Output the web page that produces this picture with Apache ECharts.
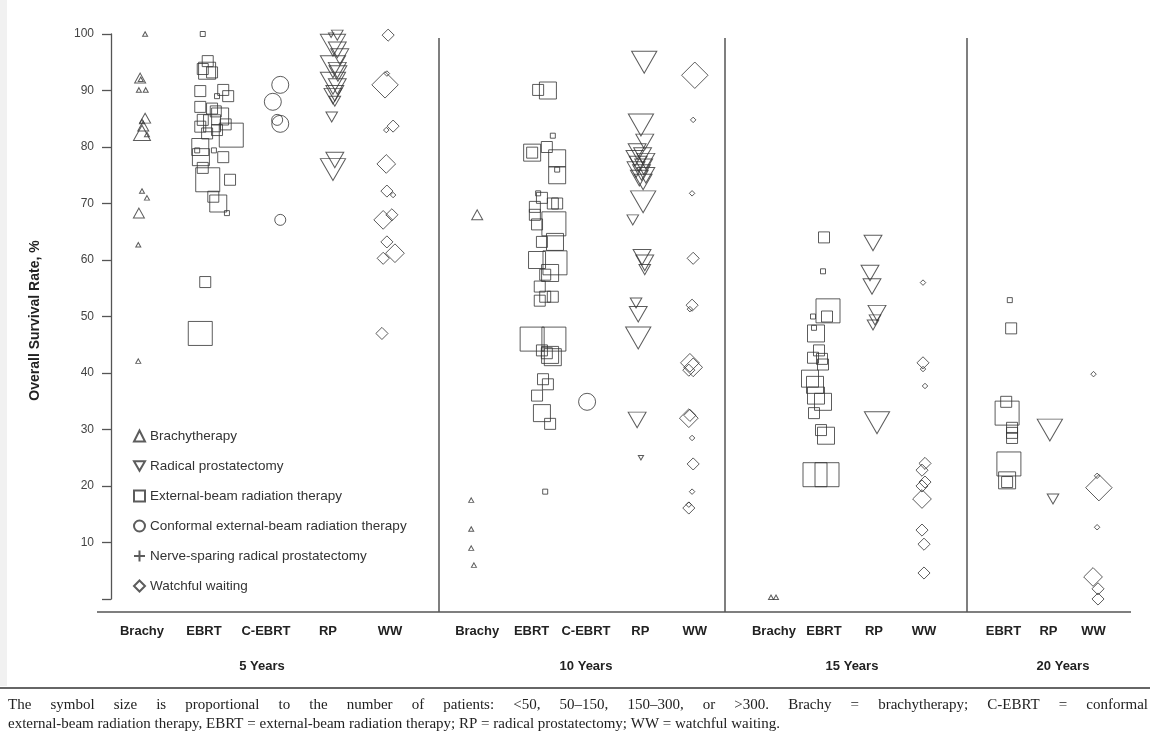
<!DOCTYPE html>
<html>
<head>
<meta charset="utf-8">
<script src="https://cdn.jsdelivr.net/npm/echarts@6/dist/echarts.min.js"></script>
<style>
html,body{margin:0;padding:0;background:#fff;}
#chart{width:1150px;height:746px;}
</style>
</head>
<body>
<div id="chart"></div>
<script>
// ---------------- DATA ----------------
const panelTitles = ['5 Years', '10 Years', '15 Years', '20 Years'];
const panelCategories = [
  ['Brachy', 'EBRT', 'C-EBRT', 'RP', 'WW'],
  ['Brachy', 'EBRT', 'C-EBRT', 'RP', 'WW'],
  ['Brachy', 'EBRT', 'RP', 'WW'],
  ['EBRT', 'RP', 'WW']
];
const yTickValues = [0, 10, 20, 30, 40, 50, 60, 70, 80, 90, 100];
const patientClasses = ['<50', '50–150', '150–300', '>300'];
const treatmentNames = {
  'Brachy': 'Brachytherapy',
  'RP': 'Radical prostatectomy',
  'EBRT': 'External-beam radiation therapy',
  'C-EBRT': 'Conformal external-beam radiation therapy',
  'NSRP': 'Nerve-sparing radical prostatectomy',
  'WW': 'Watchful waiting'
};
const legendOrder = ['Brachy', 'RP', 'EBRT', 'C-EBRT', 'NSRP', 'WW'];

// each study: [overall survival %, patient-count class (1..4), horizontal spread within the column]
const y5Brachy = [[100,1,0.05],[92.2,2,-0.03],[92.0,1,-0.02],[90.1,1,-0.05],[90.1,1,0.06],[85.1,2,0.05],[84.5,1,0],[83.7,2,0.02],[82.5,3,0],[82.2,1,0.08],[72.2,1,0],[71,1,0.08],[68.3,2,-0.05],[62.7,1,-0.06],[42.1,1,-0.06]];
const y5EBRT = [[100,1,-0.02],[95.2,2,0.06],[93.8,2,-0.02],[93.5,3,0.05],[93.2,2,0.13],[89.9,2,-0.06],[90.1,2,0.31],[89.0,2,0.39],[89.0,1,0.21],[87.1,2,-0.06],[86.8,2,0.13],[86.3,2,0.19],[85.4,3,0.26],[84.8,2,-0.02],[84.2,3,0.13],[83.6,2,-0.06],[83.0,2,0.21],[84.0,2,0.35],[82.4,2,0.05],[82.1,4,0.44],[80.0,3,-0.06],[79.4,1,-0.11],[79.4,1,0.16],[78.2,3,-0.05],[78.2,2,0.31],[76.3,2,-0.02],[74.2,4,0.06],[74.2,2,0.42],[71.2,2,0.15],[70.0,3,0.23],[68.3,1,0.37],[56.1,2,0.02],[47.0,4,-0.06]];
const y5CEBRT = [[91,3,0.23],[88,3,0.11],[84.1,3,0.23],[84.8,2,0.18],[67.1,2,0.23]];
const y5RP = [[99.8,2,0.15],[99.8,1,0.05],[98,4,0.08],[97.2,3,0.15],[96,3,0.19],[94.2,4,0.08],[93.6,3,0.15],[93,3,0.16],[91.3,4,0.08],[90.7,3,0.15],[89.5,3,0.11],[89,3,0.08],[88.1,2,0.11],[85.3,2,0.06],[77.7,3,0.11],[76,4,0.08]];
const y5WW = [[99.8,2,-0.03],[93,1,-0.05],[91,4,-0.08],[83.7,2,0.05],[83,1,-0.06],[77,3,-0.06],[72.2,2,-0.05],[71.5,1,0.05],[68,2,0.03],[67.1,3,-0.11],[63.2,2,-0.05],[61.2,3,0.08],[60.3,2,-0.11],[47,2,-0.13]];

const y10Brachy = [[68,2,0],[17.5,1,-0.11],[12.4,1,-0.11],[9,1,-0.11],[6,1,-0.06]];
const y10EBRT = [[90.1,2,0.12],[90,3,0.30],[82,1,0.39],[79,3,0.01],[79,2,0.01],[80,2,0.28],[78,3,0.47],[76,1,0.47],[75,3,0.47],[71.8,1,0.12],[71,2,0.19],[70,2,0.39],[70,2,0.47],[69.4,2,0.06],[68,2,0.06],[66.4,4,0.41],[66.3,2,0.10],[63.2,2,0.19],[63.2,3,0.43],[60,3,0.10],[59.5,4,0.43],[57.7,3,0.34],[57.4,2,0.25],[55.3,2,0.15],[53.5,2,0.25],[53.5,2,0.39],[52.8,2,0.15],[46,4,0.01],[46,4,0.41],[44,2,0.19],[43.5,2,0.28],[43.2,3,0.34],[42.8,3,0.39],[38.9,2,0.21],[38,2,0.30],[36,2,0.10],[32.9,3,0.19],[31,2,0.34],[19,1,0.25]];
const y10CEBRT = [[34.9,3,0.02]];
const y10RP = [[95,4,0.07],[83.9,4,0.01],[80.9,3,0.08],[79.2,3,-0.06],[78.5,3,0.04],[78,3,-0.1],[77.5,3,0.1],[77,3,-0.04],[76.5,3,0.06],[76,3,-0.08],[75.5,3,0.02],[75,3,0.1],[74.5,3,-0.02],[73.8,3,0.05],[70.3,4,0.05],[67.1,2,-0.14],[60.5,3,0.03],[59.5,3,0.08],[58.3,2,0.08],[52.4,2,-0.08],[50.4,3,-0.04],[46.2,4,-0.04],[31.7,3,-0.06],[25,1,0.01]];
const y10WW = [[92.7,4,0],[84.8,1,-0.03],[71.8,1,-0.05],[60.3,2,-0.03],[52,2,-0.05],[51.3,1,-0.09],[41.8,3,-0.09],[41,3,-0.03],[40.5,2,-0.11],[32.5,2,-0.09],[32,3,-0.11],[28.5,1,-0.05],[23.9,2,-0.03],[19,1,-0.05],[16.7,1,-0.11],[16.1,2,-0.11]];

const y15Brachy = [[0.3,1,-0.06],[0.3,1,0.04]];
const y15EBRT = [[64,2,0],[58,1,-0.02],[51,4,0.08],[50,2,0.06],[50,1,-0.22],[48,1,-0.2],[47,3,-0.16],[44,2,-0.1],[42.7,2,-0.22],[42.5,2,-0.04],[41.5,2,-0.02],[39,3,-0.28],[37.9,3,-0.18],[36,3,-0.16],[34.9,3,-0.02],[32.9,2,-0.2],[29.9,2,-0.06],[28.9,3,0.04],[22,4,-0.18],[22,4,0.06]];
const y15RP = [[63,3,-0.02],[57.7,3,-0.08],[55.3,3,-0.04],[50.6,3,0.06],[49.4,2,0.02],[48.5,2,-0.02],[31.2,4,0.06]];
const y15WW = [[56,1,-0.02],[41.8,2,-0.02],[40.7,1,-0.02],[37.7,1,0.02],[24,2,0.02],[22.8,2,-0.04],[20.7,2,0.02],[20,2,-0.04],[17.7,3,-0.04],[12.2,2,-0.04],[9.7,2,0],[4.6,2,0]];

const y20EBRT = [[52.9,1,0.14],[47.9,2,0.17],[34.9,2,0.06],[32.9,4,0.08],[30.3,2,0.19],[29.4,2,0.19],[28.5,2,0.19],[23.9,4,0.12],[21,3,0.08],[20.7,2,0.08]];
const y20RP = [[29.9,4,0.03],[17.7,2,0.1]];
const y20WW = [[39.8,1,0],[21.8,1,0.08],[19.7,4,0.12],[12.7,1,0.08],[3.9,3,-0.01],[1.8,2,0.1],[0,2,0.1]];

const panelData = [
  {'Brachy': y5Brachy, 'EBRT': y5EBRT, 'C-EBRT': y5CEBRT, 'RP': y5RP, 'WW': y5WW},
  {'Brachy': y10Brachy, 'EBRT': y10EBRT, 'C-EBRT': y10CEBRT, 'RP': y10RP, 'WW': y10WW},
  {'Brachy': y15Brachy, 'EBRT': y15EBRT, 'RP': y15RP, 'WW': y15WW},
  {'EBRT': y20EBRT, 'RP': y20RP, 'WW': y20WW}
];

const note1 = 'The symbol size is proportional to the number of patients: <50, 50–150, 150–300, or >300. Brachy = brachytherapy; C-EBRT = conformal';
const note2 = 'external-beam radiation therapy, EBRT = external-beam radiation therapy; RP = radical prostatectomy; WW = watchful waiting.';

// ---------------- STYLE / LAYOUT ----------------
const symbolPx = [5, 11, 17, 24];
const symbolDefs = {
  'Brachy': {symbol: 'triangle', aspect: 0.9, scale: 1},
  'RP': {symbol: 'path://M0,0L20,0L10,17.3Z', aspect: 0.87, scale: 1.05},
  'EBRT': {symbol: 'rect', aspect: 1, scale: 1},
  'C-EBRT': {symbol: 'circle', aspect: 1, scale: 1},
  'NSRP': {symbol: 'path://M5,0L5,10M0,5L10,5', aspect: 1, scale: 1},
  'WW': {symbol: 'diamond', aspect: 1, scale: 1.1}
};
const gridLayout = [
  {left: 111, width: 310},
  {left: 450, width: 272},
  {left: 749, width: 200},
  {left: 981, width: 135}
];
const titlePad = [[0, 8, 0, 0], [0, 0, 0, 0], [0, 0, 0, 6], [0, 0, 0, 29]];
const ink = '#333';
const sans = '"Liberation Sans", Arial, sans-serif';
const serif = '"Liberation Serif", "Times New Roman", serif';

const grids = [], xAxes = [], yAxes = [], series = [];
panelCategories.forEach((cats, p) => {
  grids.push({left: gridLayout[p].left, width: gridLayout[p].width, top: 34, bottom: 147, containLabel: false});
  xAxes.push({
    type: 'category', gridIndex: p, data: cats, boundaryGap: true, position: 'bottom',
    axisLine: {show: false}, axisTick: {show: false}, splitLine: {show: false},
    axisLabel: {margin: 26, fontSize: 13, fontWeight: 'bold', color: '#222', fontFamily: sans, interval: 0},
    name: panelTitles[p], nameLocation: 'middle', nameGap: 61,
    nameTextStyle: {fontSize: 13, fontWeight: 'bold', color: '#222', fontFamily: sans, padding: titlePad[p]}
  });
  xAxes.push({type: 'value', gridIndex: p, min: 0, max: cats.length, show: false});
  yAxes.push(p === 0 ? {
    type: 'value', gridIndex: 0, min: 0, max: 100, interval: 10, offset: 4,
    axisLine: {show: true, lineStyle: {color: '#555', width: 1.3}},
    axisTick: {show: true, length: 9, lineStyle: {color: '#555', width: 1.3}},
    splitLine: {show: false},
    axisLabel: {margin: 13, fontSize: 12, color: '#444', fontFamily: sans,
      formatter: v => (v === yTickValues[0] ? '' : String(v))},
    name: 'Overall Survival Rate, %', nameLocation: 'middle', nameGap: 65,
    nameTextStyle: {fontSize: 14, fontWeight: 'bold', color: '#222', fontFamily: sans, padding: [0, 8, 0, 0]}
  } : {type: 'value', gridIndex: p, min: 0, max: 100, interval: 10, show: false});

  cats.forEach((c, ci) => {
    const def = symbolDefs[c];
    series.push({
      type: 'scatter', name: treatmentNames[c],
      xAxisIndex: 2 * p + 1, yAxisIndex: p,
      symbol: def.symbol,
      symbolSize: v => { const s = symbolPx[v[2] - 1] * def.scale; return [s, s * def.aspect]; },
      itemStyle: {color: 'rgba(0,0,0,0)', borderColor: ink, borderWidth: 1},
      emphasis: {disabled: true},
      data: panelData[p][c].map(d => [ci + 0.5 + d[2], d[0], d[1]])
    });
  });
});
// legend-only entry (no studies plotted for this group)
series.push({
  type: 'scatter', name: treatmentNames['NSRP'], xAxisIndex: 1, yAxisIndex: 0,
  symbol: symbolDefs['NSRP'].symbol, symbolSize: 10,
  itemStyle: {color: 'rgba(0,0,0,0)', borderColor: ink, borderWidth: 1.2}, data: []
});

// ---------- frame lines + footnote ----------
const graphics = [
  {type: 'rect', shape: {x: 0, y: 0, width: 7, height: 686}, style: {fill: '#f1f1f1'}, silent: true},
  {type: 'line', shape: {x1: 97, y1: 612, x2: 1131, y2: 612}, style: {stroke: '#555', lineWidth: 1.5}},
  {type: 'line', shape: {x1: 0, y1: 688, x2: 1150, y2: 688}, style: {stroke: '#333', lineWidth: 1.5}}
];
[439, 725, 967].forEach(x => graphics.push({type: 'line', shape: {x1: x, y1: 38, x2: x, y2: 612}, style: {stroke: '#555', lineWidth: 1.5}}));

const noteSize = 15;
const ctx = document.createElement('canvas').getContext('2d');
ctx.font = noteSize + 'px ' + serif;
const words = note1.split(' ');
const widths = words.map(w => ctx.measureText(w).width);
const total = widths.reduce((a, b) => a + b, 0);
const gap = (1140 - total) / (words.length - 1);
let cx = 8;
words.forEach((w, i) => {
  graphics.push({type: 'text', x: cx, y: 705, style: {text: w, fontSize: noteSize, fontFamily: serif, fill: '#222', verticalAlign: 'middle'}});
  cx += widths[i] + gap;
});
graphics.push({type: 'text', x: 8, y: 724, style: {text: note2, fontSize: noteSize, fontFamily: serif, fill: '#222', verticalAlign: 'middle'}});

const chart = echarts.init(document.getElementById('chart'), null, {renderer: 'canvas'});
chart.setOption({
  backgroundColor: '#fff',
  animation: false,
  textStyle: {fontFamily: sans},
  grid: grids,
  xAxis: xAxes,
  yAxis: yAxes,
  legend: {
    orient: 'vertical', left: 128, top: 424, itemWidth: 11, itemHeight: 11, itemGap: 16,
    selectedMode: false,
    textStyle: {fontSize: 13.5, color: '#333', fontFamily: sans, lineHeight: 14},
    data: legendOrder.map(k => treatmentNames[k])
  },
  tooltip: {show: false},
  graphic: graphics,
  series: series
});
</script>
</body>
</html>
